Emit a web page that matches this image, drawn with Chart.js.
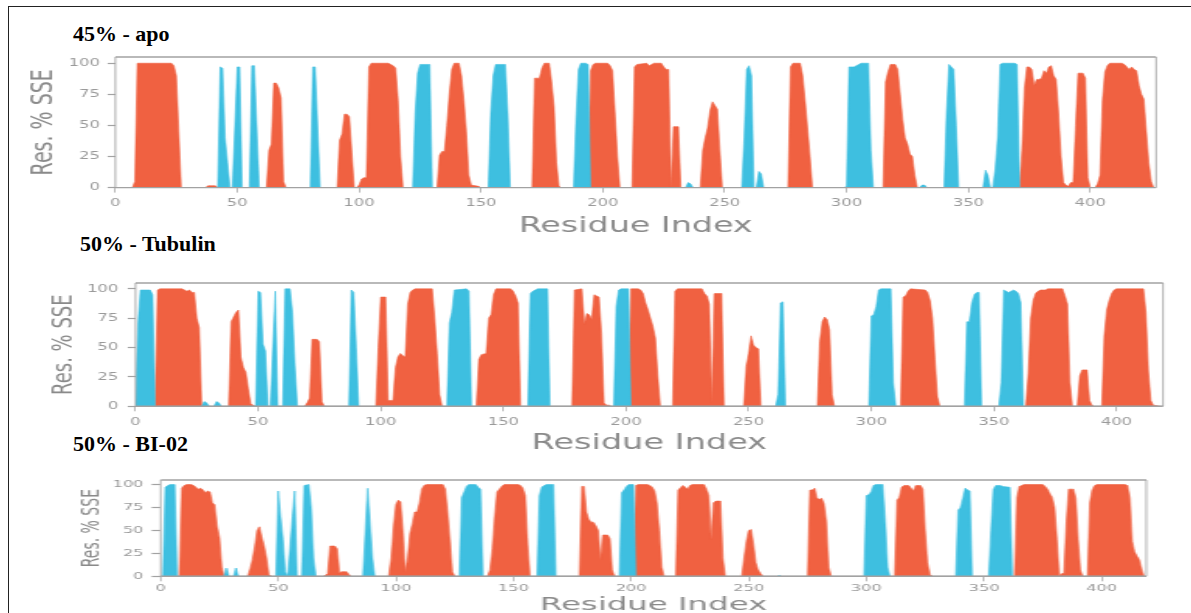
<!DOCTYPE html>
<html><head><meta charset="utf-8">
<script src="https://cdn.jsdelivr.net/npm/chart.js@4.4.0/dist/chart.umd.min.js"></script>
<style>
html,body{margin:0;padding:0;width:1191px;height:613px;overflow:hidden;background:#fff;}
.frame{position:absolute;left:8px;top:6px;width:1200px;height:700px;border-left:1.5px solid #222;border-top:1.5px solid #222;}
.ttl{position:absolute;font-family:"Liberation Serif","Times New Roman",serif;font-weight:bold;font-size:22px;line-height:22px;color:#000;white-space:nowrap;}
.pnl{position:absolute;transform-origin:0 0;}
.pnl canvas{display:block;}
</style></head><body>
<div class="frame"></div>
<div class="ttl" id="t1" style="left:73px;top:23px;"></div>
<div class="ttl" id="t2" style="left:80px;top:233px;"></div>
<div class="ttl" id="t3" style="left:73px;top:433px;"></div>
<div class="pnl" id="p1"><canvas id="c1"></canvas></div>
<div class="pnl" id="p2"><canvas id="c2"></canvas></div>
<div class="pnl" id="p3"><canvas id="c3"></canvas></div>
<script>
// ---- data: [residue index, % SSE] ----
const xTicks = [0, 50, 100, 150, 200, 250, 300, 350, 400];
const yTicks = [0, 25, 50, 75, 100];
const titles = ["45% - apo", "50% - Tubulin", "50% - BI-02"];

const apoHelix = [
[0,0],[7,0],[8,5],[9,100],[23,100],[24,98],[25,90],[26,45],[27,0],
[37,0],[38,1.5],[41,1.5],[42,0],
[62,0],[63,30],[64,35],[65,84],[66,84],[67,80],[68,72],[69,5],[70,0],
[91,0],[92,38],[93,43],[94,59],[95,59],[96,57],[98,0],
[99,0],[100,2],[101,7],[102,8],[103,8],[104,97],[105,100],[112,100],[113,99],[114,98],[115,96],[116,70],[117,25],[118,0],
[132,0],[133,26],[134,29],[135,29],[136,50],[137,75],[138,95],[139,100],[141,100],[142,90],[143,70],[144,45],[145,10],[146,2],[149,1],[150,0],
[171,0],[172,88],[174,88],[175,96],[176,100],[178,100],[179,85],[180,65],[181,20],[182,1],[183,0],
[194,0],[195,94],[196,99],[197,100],[202,100],[203,98],[204,94],[205,60],[206,25],[207,0],
[212,0],[213,97],[214,99],[218,100],[219,98],[220,99],[221,100],[224,100],[225,97],[226,95],[227,95],[228,0],[229,49],[231,49],[232,0],
[240,0],[241,30],[242,40],[243,48],[244,62],[245,69],[246,66],[247,63],[248,30],[249,0],
[276,0],[277,97],[278,100],[281,100],[282,90],[283,70],[284,48],[285,25],[286,0],
[315,0],[316,85],[317,93],[318,99],[320,99],[321,95],[322,75],[323,55],[324,40],[325,35],[326,27],[327,25],[328,10],[329,0],
[371,0],[372,30],[373,80],[374,97],[375,97],[376,95],[377,82],[378,87],[379,87],[380,88],[381,94],[382,92],[383,97],[384,98],[385,90],[386,87],[387,60],[388,25],[389,4],[390,2],[391,1],[392,4],[393,4],[394,50],[395,92],[397,92],[398,88],[399,8],[400,0],
[402,0],[403,3],[404,10],[405,70],[406,93],[407,98],[408,100],[413,100],[414,99],[415,97],[416,95],[417,97],[418,95],[419,94],[420,82],[421,75],[422,71],[423,45],[424,20],[425,5],[426,0],[427,0]
];
const apoStrand = [
[0,0],[42,0],[43,97],[44,96],[45,40],[46,20],[47,0],[48,0],[50,97],[51,97],[52,0],[55,0],[56,98],[57,98],[59,0],
[80,0],[81,97],[82,97],[84,0],
[122,0],[123,60],[124,92],[125,99],[129,99],[130,0],
[153,0],[154,60],[155,90],[156,99],[160,99],[161,60],[162,0],
[188,0],[189,55],[190,95],[191,100],[193,100],[194,99],[195,0],
[234,0],[235,4],[236,3],[237,0],
[257,0],[258,40],[259,95],[260,98],[261,90],[262,0],[263,0],[264,13],[265,11],[266,0],
[299,0],[300,1],[301,97],[303,97],[304,98],[305,99],[306,100],[309,100],[310,30],[311,0],
[330,0],[331,2],[332,2],[333,0],
[340,0],[341,60],[342,99],[343,97],[344,95],[345,50],[346,0],
[356,0],[357,14],[358,10],[359,0],
[360,0],[361,15],[362,40],[363,99],[364,100],[369,100],[370,99],[371,0],[427,0]
];

const tubHelix = [
[0,0],[8,0],[9,99],[10,100],[19,100],[20,99],[21,98],[22,99],[23,97],[24,97],[25,75],[26,67],[27,0],
[38,0],[39,72],[40,76],[41,80],[42,82],[43,42],[44,33],[45,29],[46,15],[47,2],[48,1],[49,0],
[69,0],[70,3],[71,7],[72,57],[74,57],[75,55],[76,4],[77,0],
[98,0],[99,50],[100,93],[102,93],[103,5],[105,5],[106,33],[107,42],[108,45],[109,43],[110,42],[111,87],[112,97],[113,99],[114,100],[121,100],[122,75],[123,45],[124,10],[125,0],
[139,0],[140,40],[141,44],[143,45],[144,75],[145,78],[146,95],[147,100],[153,100],[154,98],[155,94],[156,88],[157,0],
[178,0],[179,99],[182,100],[183,70],[184,79],[185,78],[186,74],[187,95],[188,94],[189,93],[190,62],[191,3],[192,1],[193,1],[194,0],
[201,0],[202,100],[205,100],[206,99],[207,96],[208,88],[209,82],[210,75],[211,68],[212,58],[213,25],[214,0],
[219,0],[220,98],[221,100],[231,100],[232,96],[233,94],[234,87],[235,3],[236,96],[239,96],[240,0],
[248,0],[249,34],[250,45],[251,60],[252,52],[253,50],[254,49],[255,0],
[278,0],[279,55],[280,72],[281,76],[282,74],[283,65],[284,10],[285,0],
[312,0],[313,93],[314,94],[315,98],[316,100],[322,99],[323,97],[324,90],[325,75],[326,40],[327,8],[328,0],
[363,0],[364,28],[365,75],[366,90],[367,96],[368,98],[369,99],[371,99],[372,100],[378,100],[379,94],[380,87],[381,20],[382,0],
[384,0],[385,26],[386,31],[388,31],[389,5],[390,1],[391,0],
[394,0],[395,60],[396,82],[397,90],[398,96],[399,99],[400,100],[411,100],[412,80],[413,30],[414,5],[415,1],[418,0],[419,0]
];
const tubStrand = [
[0,0],[1,70],[2,99],[6,99],[7,95],[8,0],
[27,0],[28,4],[29,3],[30,0],[32,0],[33,4],[34,3],[35,0],
[49,0],[50,98],[51,97],[52,53],[53,47],[54,0],
[55,0],[56,50],[57,98],[58,0],
[60,0],[61,100],[63,100],[64,80],[65,35],[66,0],
[87,0],[88,99],[89,97],[90,50],[91,0],
[127,0],[128,71],[129,80],[130,99],[135,100],[136,98],[137,0],
[160,0],[161,96],[162,98],[163,99],[164,100],[168,100],[169,0],
[195,0],[196,85],[197,99],[198,100],[201,100],[202,0],
[261,0],[262,10],[263,88],[264,89],[265,0],
[299,0],[300,77],[301,78],[302,85],[303,99],[304,100],[308,100],[309,20],[310,0],
[338,0],[339,72],[340,72],[341,88],[342,95],[343,97],[344,97],[345,0],
[352,0],[353,20],[354,99],[355,98],[356,97],[357,98],[358,99],[359,98],[360,96],[361,88],[362,0],[419,0]
];

const biHelix = [
[0,0],[8,0],[9,96],[10,99],[11,100],[13,100],[14,99],[15,97],[16,95],[17,96],[18,94],[19,91],[20,93],[21,92],[22,80],[23,78],[24,55],[25,42],[26,10],[27,0],
[37,0],[38,8],[39,18],[40,32],[41,50],[42,54],[43,43],[44,33],[45,20],[46,2],[47,0],
[69,0],[70,1],[71,3],[72,33],[74,33],[75,30],[76,4],[77,5],[79,5],[80,2],[81,0],
[97,0],[98,20],[99,55],[100,78],[101,83],[102,81],[103,50],[104,5],[105,20],[106,47],[107,57],[108,70],[109,70],[110,80],[111,95],[112,99],[113,100],[120,100],[121,95],[122,70],[123,40],[124,5],[125,0],
[139,0],[140,7],[141,30],[142,65],[143,92],[144,95],[145,98],[146,100],[152,100],[153,99],[154,96],[155,88],[156,35],[157,0],
[178,0],[179,98],[180,98],[181,70],[182,62],[183,59],[184,59],[185,55],[186,50],[187,18],[188,45],[190,45],[191,41],[192,7],[193,0],
[201,0],[202,99],[203,100],[207,100],[208,99],[209,97],[210,93],[211,80],[212,50],[213,10],[214,0],
[219,0],[220,94],[222,99],[223,97],[224,95],[225,99],[226,100],[231,100],[232,95],[233,88],[234,40],[235,80],[236,82],[238,82],[239,20],[240,0],
[247,0],[248,20],[249,38],[250,50],[251,51],[252,35],[253,15],[254,7],[255,3],[256,0],
[275,0],[276,94],[277,94],[278,96],[279,85],[280,84],[281,85],[282,79],[283,60],[284,10],[285,0],
[312,0],[313,83],[314,86],[315,97],[316,99],[318,99],[319,96],[320,93],[321,99],[323,99],[324,95],[325,50],[326,15],[327,2],[328,0],
[363,0],[364,86],[365,98],[366,99],[367,100],[375,100],[376,98],[377,95],[378,90],[379,86],[380,75],[381,40],[382,0],[383,3],[384,3],[385,60],[386,95],[388,95],[389,85],[390,40],[391,7],[392,0],
[394,0],[395,80],[396,94],[397,99],[398,100],[410,100],[411,99],[412,85],[413,38],[414,27],[415,22],[416,18],[417,8],[418,0],[419,0]
];
const biStrand = [
[0,0],[1,0],[2,97],[3,99],[4,100],[6,100],[7,0],
[27,0],[28,9],[29,0],[31,0],[32,9],[33,0],
[49,0],[50,93],[51,65],[52,40],[53,5],[54,0],[55,30],[56,65],[57,93],[58,0],
[60,0],[61,99],[63,100],[64,75],[65,20],[66,0],
[86,0],[88,96],[89,60],[90,20],[91,0],
[127,0],[128,86],[129,92],[130,98],[131,100],[134,100],[135,97],[136,95],[137,0],
[160,0],[161,88],[162,97],[163,99],[164,100],[167,100],[168,0],
[195,0],[196,91],[197,94],[198,98],[199,100],[201,100],[202,0],
[262,0],[263,1],[264,0],
[299,0],[300,88],[301,89],[302,92],[303,99],[304,100],[307,100],[308,60],[309,10],[310,0],
[338,0],[339,72],[340,75],[341,85],[342,96],[343,94],[344,93],[345,0],
[352,0],[353,50],[354,95],[355,99],[357,99],[358,98],[361,97],[362,0],[419,0]
];

const HELIX = '#F06141';
const STRAND = '#3EBFE0';
const AXIS = '#a2a2a2';
const TICKTXT = '#9a9a9a';
const TITLETXT = '#8a8a8a';

document.getElementById('t1').textContent = titles[0];
document.getElementById('t2').textContent = titles[1];
document.getElementById('t3').textContent = titles[2];

// frame drawn around the plot area
const framePlugin = {
  id: 'frame',
  afterDraw(chart, args, opts) {
    const {ctx, chartArea: a} = chart;
    ctx.save();
    ctx.strokeStyle = AXIS;
    ctx.lineWidth = 1.4;
    ctx.beginPath();
    ctx.moveTo(a.left, a.top); ctx.lineTo(a.right, a.top);
    ctx.moveTo(a.left, a.bottom); ctx.lineTo(a.right, a.bottom);
    ctx.stroke();
    ctx.lineWidth = 1.4 / opts.sx;
    ctx.beginPath();
    ctx.moveTo(a.left, a.top); ctx.lineTo(a.left, a.bottom);
    ctx.moveTo(a.right, a.top); ctx.lineTo(a.right, a.bottom);
    ctx.stroke();
    ctx.restore();
  }
};

function pts(arr) { return arr.map(p => ({x: p[0], y: p[1]})); }

// g: screen geometry of the plot frame and titles; chart is drawn unscaled then stretched by sx
function makePanel(g) {
  const div = document.getElementById(g.div);
  const cv = document.getElementById(g.canvas);
  const padTop = 14;
  const L = g.yTitleCX - g.sx * (g.yTitleFont * 1.2 / 2 + 4);
  const yw = (g.left - L) / g.sx;
  const plotW = (g.right - g.left) / g.sx;
  const W = Math.ceil(yw + plotW + 2);
  const padRight = W - yw - plotW;
  const T = g.top - padTop;
  const plotH = g.bottom - g.top;
  const xhNom = g.xTitleCY + (g.xTitleFont * 1.2 / 2 + 4) - g.bottom;
  const H = Math.round(padTop + plotH + xhNom);
  const xh = H - padTop - plotH;
  cv.width = W; cv.height = H;
  cv.style.width = W + 'px'; cv.style.height = H + 'px';
  div.style.left = L + 'px'; div.style.top = T + 'px';
  div.style.width = W + 'px'; div.style.height = H + 'px';
  div.style.transform = 'scaleX(' + g.sx + ')';
  new Chart(cv, {
    type: 'line',
    data: {
      datasets: [
        {label: 'Strand', data: pts(g.strand), backgroundColor: STRAND, borderColor: STRAND, borderWidth: 0.6, fill: 'origin', pointRadius: 0, tension: 0},
        {label: 'Helix', data: pts(g.helix), backgroundColor: HELIX, borderColor: HELIX, borderWidth: 0.6, fill: 'origin', pointRadius: 0, tension: 0}
      ]
    },
    options: {
      responsive: false,
      animation: false,
      devicePixelRatio: 1,
      layout: {padding: {top: padTop, right: padRight, left: 0, bottom: 0}},
      plugins: {legend: {display: false}, tooltip: {enabled: false}, frame: {sx: g.sx}},
      scales: {
        x: {
          type: 'linear', min: 0, max: g.xmax,
          afterBuildTicks: s => { s.ticks = xTicks.map(v => ({value: v})); },
          afterFit: s => { s.height = xh; },
          border: {display: false},
          grid: {display: true, drawOnChartArea: false, drawTicks: true, tickLength: 5, tickColor: AXIS, tickWidth: 1.2 / g.sx},
          ticks: {color: TICKTXT, padding: g.xpad, maxRotation: 0, autoSkip: false, font: {family: 'DejaVu Sans', size: g.tickFont}},
          title: {display: true, text: 'Residue Index', color: TITLETXT, font: {family: 'DejaVu Sans', size: g.xTitleFont}, padding: {top: 4, bottom: 4}}
        },
        y: {
          type: 'linear', min: 0, max: 105,
          afterBuildTicks: s => { s.ticks = yTicks.map(v => ({value: v})); },
          afterFit: s => { s.width = yw; },
          border: {display: false},
          grid: {display: true, drawOnChartArea: false, drawTicks: true, tickLength: 5, tickColor: AXIS, tickWidth: 1.2},
          ticks: {color: TICKTXT, padding: g.ypad, font: {family: 'DejaVu Sans', size: g.tickFont}},
          title: {display: true, text: 'Res. % SSE', color: TITLETXT, font: {family: 'DejaVu Sans', size: g.yTitleFont}, padding: {top: 4, bottom: 4}}
        }
      }
    },
    plugins: [framePlugin]
  });
}

makePanel({div: 'p1', canvas: 'c1', helix: apoHelix, strand: apoStrand, xmax: 427, sx: 1.55,
  left: 115, right: 1155.7, top: 56.7, bottom: 187.3, yTitleCX: 44.5, xTitleCY: 226,
  tickFont: 10.5, xTitleFont: 21.5, yTitleFont: 19, xpad: 4.5, ypad: 5});
makePanel({div: 'p2', canvas: 'c2', helix: tubHelix, strand: tubStrand, xmax: 419, sx: 1.56,
  left: 135.7, right: 1163.3, top: 282.7, bottom: 406, yTitleCX: 65.3, xTitleCY: 442.5,
  tickFont: 10.5, xTitleFont: 21.5, yTitleFont: 18, xpad: 5, ypad: 6});
makePanel({div: 'p3', canvas: 'c3', helix: biHelix, strand: biStrand, xmax: 419, sx: 1.8,
  left: 160.3, right: 1146, top: 480, bottom: 576.3, yTitleCX: 92, xTitleCY: 605,
  tickFont: 9, xTitleFont: 18, yTitleFont: 14, xpad: 2, ypad: 4.5});
</script>
</body></html>
